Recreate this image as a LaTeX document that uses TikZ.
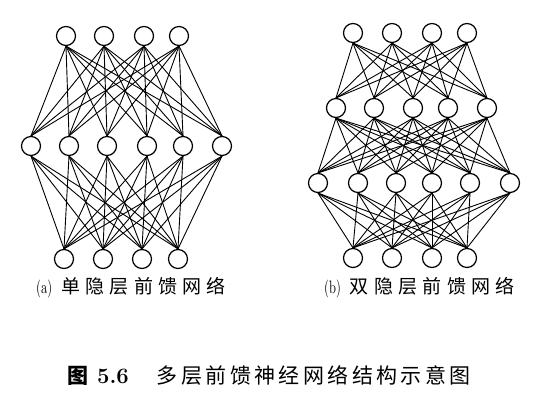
\documentclass[tikz,border=0pt]{standalone}
\usepackage{fontspec}
\usepackage{graphicx}
\newfontfamily\cjk{Noto Sans CJK SC}
\newcommand\gpa{\hspace{5.3pt}}
\newcommand\gpb{\hspace{3.4pt}}
\tikzset{
  neuron/.style={circle, draw, line width=1.2pt, minimum size=19pt, inner sep=0pt},
  link/.style={line width=0.9pt},
  lbl/.style={inner sep=0pt, anchor=west}
}
\begin{document}
\begin{tikzpicture}[x=1pt,y=-1pt]
\useasboundingbox (0,0) rectangle (533,411);
% ---- (a) single hidden layer
\foreach \x [count=\i] in {66,104,144,179} \node[neuron] (a1\i) at (\x,36) {};
\foreach \x [count=\i] in {31,69,107,147,183,222} \node[neuron] (a2\i) at (\x,146) {};
\foreach \x [count=\i] in {64,103,142,178} \node[neuron] (a3\i) at (\x,259) {};
\foreach \i in {1,...,4} \foreach \j in {1,...,6} \draw[link] (a1\i.south) -- (a2\j.north);
\foreach \i in {1,...,6} \foreach \j in {1,...,4} \draw[link] (a2\i.south) -- (a3\j.north);
% ---- (b) two hidden layers
\foreach \x [count=\i] in {353,392,432,467} \node[neuron] (b1\i) at (\x,33) {};
\foreach \x [count=\i] in {336,374,413,448,487} \node[neuron] (b2\i) at (\x,108) {};
\foreach \x [count=\i] in {318,358,396,432,470,510} \node[neuron] (b3\i) at (\x,183) {};
\foreach \x [count=\i] in {353,392,432,467} \node[neuron] (b4\i) at (\x,258) {};
\foreach \i in {1,...,4} \foreach \j in {1,...,5} \draw[link] (b1\i.south) -- (b2\j.north);
\foreach \i in {1,...,5} \foreach \j in {1,...,6} \draw[link] (b2\i.south) -- (b3\j.north);
\foreach \i in {1,...,6} \foreach \j in {1,...,4} \draw[link] (b3\i.south) -- (b4\j.north);
% ---- captions
\node[lbl] (capa) at (36,288) {\scalebox{1.25}[1.8]{(a)}\hspace{9pt}{\cjk\fontsize{19}{19}\selectfont 单\gpa 隐\gpa 层\gpa 前\gpa 馈\gpa 网\gpa 络}};
\node[lbl] (capb) at (324,288) {\scalebox{1.25}[1.8]{(b)}\hspace{9pt}{\cjk\fontsize{19}{19}\selectfont 双\gpa 隐\gpa 层\gpa 前\gpa 馈\gpa 网\gpa 络}};
\node[lbl] (title) at (67,376) {{\cjk\bfseries\fontsize{21}{21}\selectfont 图}\hspace{9pt}{\bfseries\fontsize{22}{22}\selectfont 5.6}\hspace{28pt}{\cjk\fontsize{21}{21}\selectfont 多\gpb 层\gpb 前\gpb 馈\gpb 神\gpb 经\gpb 网\gpb 络\gpb 结\gpb 构\gpb 示\gpb 意\gpb 图}};
\end{tikzpicture}
\end{document}
